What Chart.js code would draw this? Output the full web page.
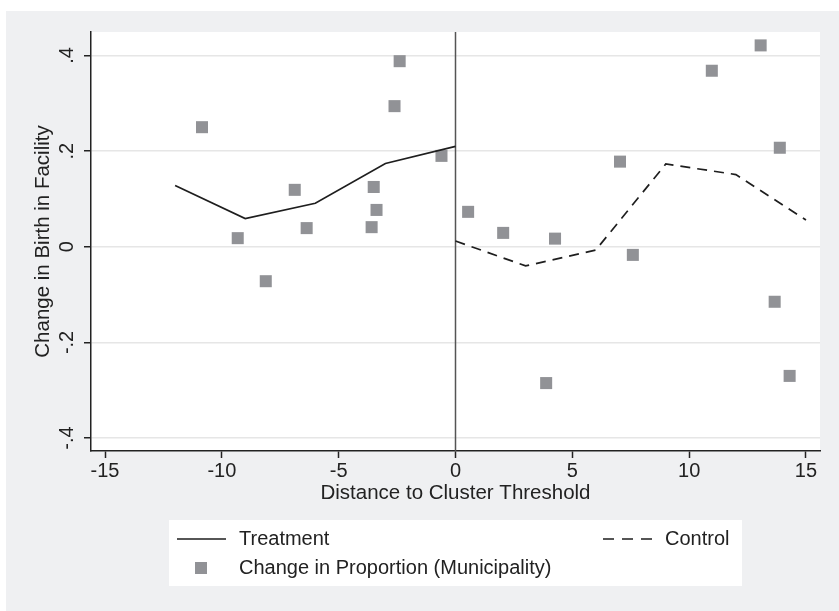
<!DOCTYPE html>
<html><head><meta charset="utf-8">
<script src="https://cdn.jsdelivr.net/npm/chart.js@4"></script>
<style>html,body{margin:0;padding:0;background:#fff}#wrap{width:839px;height:611px}</style>
</head><body><div id="wrap"><canvas id="c" width="839" height="611"></canvas></div>
<script>
// ---- data ----
const treatmentX = [-12, -9, -6, -3, 0];
const treatmentY = [0.128, 0.059, 0.091, 0.174, 0.210];
const controlX = [0, 3, 6, 9, 12, 15];
const controlY = [0.012, -0.040, -0.007, 0.173, 0.151, 0.056];
const municipalityX = [-10.85, -9.32, -8.12, -6.88, -6.37, -3.59, -3.50, -3.38, -2.61, -2.39, -0.60,
                        0.54, 2.04, 3.88, 4.26, 7.04, 7.59, 10.97, 13.06, 13.66, 13.88, 14.30];
const municipalityY = [0.250, 0.018, -0.072, 0.119, 0.039, 0.041, 0.125, 0.077, 0.294, 0.388, 0.190,
                        0.073, 0.029, -0.285, 0.017, 0.178, -0.017, 0.368, 0.421, -0.115, 0.207, -0.270];
const xTicks = [-15, -10, -5, 0, 5, 10, 15];
const yTicks = [-0.4, -0.2, 0, 0.2, 0.4];
const thresholdX = 0;
const labels = {
  treatment: 'Treatment',
  control: 'Control',
  municipality: 'Change in Proportion (Municipality)',
  xTitle: 'Distance to Cluster Threshold',
  yTitle: 'Change in Birth in Facility'
};

const FONT = '"Liberation Sans", Arial, sans-serif';
const INK = '#222222';
const MARK = '#919296';
const BG = '#eff0f2';

function pts(xs, ys) { return xs.map((x, i) => ({ x: x, y: ys[i] })); }
function fmtY(v) {
  if (Math.abs(v) < 1e-9) return '0';
  const s = String(Math.round(Math.abs(v) * 10) / 10).replace(/^0/, '');
  return (v < 0 ? '-' : '') + s;
}

const bgPlugin = {
  id: 'bg',
  beforeDraw(chart) {
    const ctx = chart.ctx, a = chart.chartArea;
    ctx.save();
    ctx.fillStyle = '#ffffff';
    ctx.fillRect(0, 0, chart.width, chart.height);
    ctx.fillStyle = BG;
    ctx.fillRect(6, 11, chart.width - 6, chart.height - 11);
    ctx.fillStyle = '#ffffff';
    ctx.fillRect(a.left, a.top, a.right - a.left, a.bottom - a.top);
    ctx.restore();
  },
  beforeDatasetsDraw(chart) {
    const ctx = chart.ctx, a = chart.chartArea;
    const px = chart.scales.x.getPixelForValue(thresholdX);
    ctx.save();
    ctx.strokeStyle = '#555555';
    ctx.lineWidth = 1.5;
    ctx.beginPath();
    ctx.moveTo(px, a.top);
    ctx.lineTo(px, a.bottom);
    ctx.stroke();
    ctx.restore();
  },
  afterDraw(chart) {
    const ctx = chart.ctx;
    const ys = chart.scales.y;
    ctx.save();
    ctx.fillStyle = INK;
    ctx.font = '20px ' + FONT;
    ctx.textAlign = 'center';
    ctx.textBaseline = 'middle';
    yTicks.forEach(v => {
      const py = ys.getPixelForValue(v);
      ctx.save();
      ctx.translate(67, py);
      ctx.rotate(-Math.PI / 2);
      ctx.fillText(fmtY(v), 0, 0);
      ctx.restore();
    });
    // legend
    const box = { l: 169, t: 520, r: 742, b: 586 };
    ctx.fillStyle = '#ffffff';
    ctx.fillRect(box.l, box.t, box.r - box.l, box.b - box.t);
    const ds = chart.data.datasets;
    const row1 = 539, row2 = 568;
    ctx.strokeStyle = ds[1].borderColor;
    ctx.lineWidth = ds[1].borderWidth;
    ctx.beginPath(); ctx.moveTo(177, row1); ctx.lineTo(226, row1); ctx.stroke();
    ctx.strokeStyle = ds[2].borderColor;
    ctx.lineWidth = ds[2].borderWidth;
    ctx.setLineDash([11, 8]);
    ctx.beginPath(); ctx.moveTo(603, row1); ctx.lineTo(652, row1); ctx.stroke();
    ctx.setLineDash([]);
    ctx.fillStyle = ds[0].backgroundColor;
    ctx.fillRect(195, row2 - 6, 12, 12);
    ctx.fillStyle = INK;
    ctx.textAlign = 'left';
    ctx.fillText(ds[1].label, 239, row1);
    ctx.fillText(ds[2].label, 665, row1);
    ctx.fillText(ds[0].label, 239, row2);
    ctx.restore();
  }
};

new Chart(document.getElementById('c'), {
  type: 'scatter',
  data: {
    datasets: [
      { label: labels.municipality, data: pts(municipalityX, municipalityY), showLine: false,
        pointStyle: 'rect', pointRadius: 8.5, pointHoverRadius: 8.5, borderWidth: 0,
        backgroundColor: MARK, borderColor: MARK, order: 3 },
      { label: labels.treatment, data: pts(treatmentX, treatmentY), showLine: true, pointRadius: 0,
        borderColor: '#1e1e1e', borderWidth: 1.7, tension: 0, fill: false, order: 1 },
      { label: labels.control, data: pts(controlX, controlY), showLine: true, pointRadius: 0,
        borderColor: '#1e1e1e', borderWidth: 1.7, borderDash: [10, 7], tension: 0, fill: false, order: 2 }
    ]
  },
  options: {
    responsive: false,
    animation: false,
    devicePixelRatio: 1,
    layout: { padding: { left: 20, top: 32, right: 19, bottom: 105.4 } },
    plugins: { legend: { display: false }, tooltip: { enabled: false } },
    scales: {
      x: {
        type: 'linear', min: -15.6, max: 15.6,
        afterBuildTicks: s => { s.ticks = xTicks.map(v => ({ value: v })); },
        afterFit: s => { s.height = 54.6; },
        ticks: { font: { family: FONT, size: 20 }, color: INK, padding: 1, maxRotation: 0, autoSkip: false,
                 callback: v => String(v) },
        grid: { drawOnChartArea: false, tickLength: 7, tickColor: INK, tickWidth: 1.5 },
        border: { color: INK, width: 1.5 },
        title: { display: true, text: labels.xTitle, font: { family: FONT, size: 20.5 }, color: INK,
                 padding: { top: 0, bottom: 0 } }
      },
      y: {
        type: 'linear', min: -0.427, max: 0.449,
        afterBuildTicks: s => { s.ticks = yTicks.map(v => ({ value: v })); },
        afterFit: s => { s.width = 71; },
        ticks: { display: false },
        grid: { color: '#e6e6e6', lineWidth: 1.5, tickLength: 7, tickColor: INK, tickWidth: 1.5 },
        border: { color: INK, width: 1.5 },
        title: { display: true, text: labels.yTitle, font: { family: FONT, size: 20.5 }, color: INK,
                 padding: { top: 11, bottom: 0 } }
      }
    }
  },
  plugins: [bgPlugin]
});
</script></body></html>
